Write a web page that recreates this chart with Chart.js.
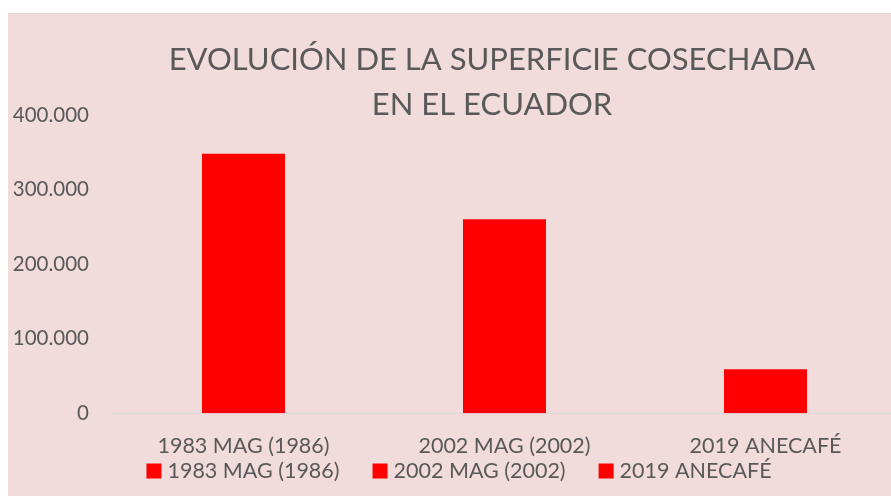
<!DOCTYPE html>
<html>
<head>
<meta charset="utf-8">
<script src="https://cdn.jsdelivr.net/npm/chart.js@4.4.1/dist/chart.umd.min.js"></script>
<style>
    html, body { margin: 0; padding: 0; background: #fff; overflow: hidden; }
    #wrap { position: absolute; left: 8px; top: 13px; width: 888px; height: 483px; background: #f2dcdb; border-top: 1px solid #e4d9d2; box-sizing: border-box; }
</style>
</head>
<body>
<div id="wrap"><canvas id="superficieChart"></canvas></div>
<script>
// Data
const categories = ['1983 MAG (1986)', '2002 MAG (2002)', '2019 ANECAFÉ'];
const hectareas = [348000, 260000, 59000];
const yTicks = [0, 100000, 200000, 300000, 400000];
const titleLines = ['EVOLUCIÓN DE LA SUPERFICIE COSECHADA', 'EN EL ECUADOR'];

const textColor = '#595959';
const barColor = '#ff0000';
const fontFamily = 'Lato, "Open Sans", sans-serif';

function formatMiles(v) {
    return String(v).replace(/\B(?=(\d{3})+(?!\d))/g, '.');
}

// Excel-style title (overlaps the plot area) and legend with one entry per category
const excelDecor = {
    id: 'excelDecor',
    afterDraw(chart) {
        const c = chart.ctx;
        c.save();
        c.fillStyle = textColor;
        c.textAlign = 'center';
        c.textBaseline = 'middle';
        c.font = '31px ' + fontFamily;
        c.fillText(titleLines[0], 484, 46);
        c.fillText(titleLines[1], 484, 91);

        // legend
        c.font = '21.5px ' + fontFamily;
        c.textAlign = 'left';
        const box = 15, gap = 6, itemGap = 33;
        const widths = categories.map(function (t) { return box + gap + c.measureText(t).width; });
        const total = widths.reduce(function (a, b) { return a + b; }, 0) + itemGap * (categories.length - 1);
        let x = 451 - total / 2;
        const y = 457;
        categories.forEach(function (t, i) {
            c.fillStyle = barColor;
            c.fillRect(x, y - box / 2, box, box);
            c.fillStyle = textColor;
            c.fillText(t, x + box + gap, y);
            x += widths[i] + itemGap;
        });
        c.restore();
    }
};

const ctx = document.getElementById('superficieChart').getContext('2d');
const superficieChart = new Chart(ctx, {
    type: 'bar',
    data: {
        labels: categories,
        datasets: [{
            label: 'Superficie cosechada',
            data: hectareas,
            backgroundColor: barColor,
            borderWidth: 0,
            barPercentage: 0.318,
            categoryPercentage: 1
        }]
    },
    options: {
        responsive: true,
        maintainAspectRatio: false,
        animation: false,
        layout: {
            padding: { top: 101, left: 0, right: 0, bottom: 17 }
        },
        plugins: {
            title: { display: false },
            tooltip: { enabled: false },
            legend: { display: false }
        },
        scales: {
            x: {
                grid: { display: false, drawTicks: false },
                border: { display: true, color: '#d9d9d9', width: 1 },
                ticks: {
                    color: textColor,
                    font: { family: fontFamily, size: 21.5 },
                    padding: 20,
                    maxRotation: 0,
                    autoSkip: false
                }
            },
            y: {
                min: 0,
                max: yTicks[yTicks.length - 1],
                grid: { display: false, drawTicks: false },
                border: { display: false },
                afterBuildTicks: function (scale) {
                    scale.ticks = yTicks.map(function (v) { return { value: v }; });
                },
                ticks: {
                    color: textColor,
                    font: { family: fontFamily, size: 20.5 },
                    padding: 24,
                    callback: function (value) { return formatMiles(value); }
                },
                afterFit: function (scale) { scale.width = 105; }
            }
        }
    },
    plugins: [excelDecor]
});
</script>
</body>
</html>
